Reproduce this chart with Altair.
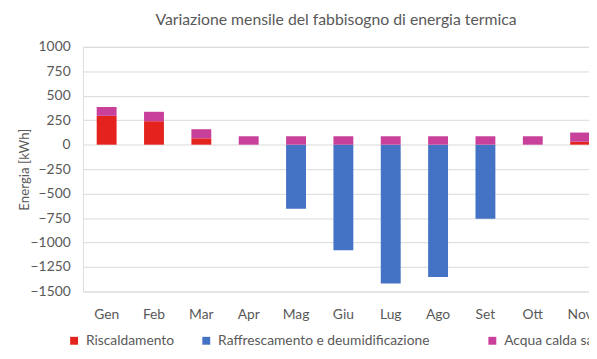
import altair as alt
import pandas as pd

months = ["Gen", "Feb", "Mar", "Apr", "Mag", "Giu", "Lug", "Ago", "Set", "Ott", "Nov"]
month_domain = months + ["Dic"]
series = ["Riscaldamento", "Raffrescamento e deumidificazione", "Acqua calda sanitaria"]
riscaldamento = [295, 240, 65, 0, 0, 0, 0, 0, 0, 0, 30]
raffrescamento = [0, 0, 0, 0, -655, -1078, -1418, -1352, -756, 0, 0]
acqua = [90, 96, 93, 86, 86, 86, 86, 86, 86, 86, 94]
colors = ["#E5231E", "#4472C4", "#C8409A"]
y_ticks = list(range(-1500, 1001, 250))

rows = []
for i, m in enumerate(months):
    for k, (s, vals) in enumerate(zip(series, [riscaldamento, raffrescamento, acqua])):
        rows.append({"Mese": m, "Serie": s, "Valore": vals[i], "ord": k})
df = pd.DataFrame(rows)

FONT = "Lato"
TXT = "#595959"

x_enc = alt.X("Mese:N", sort=month_domain,
              scale=alt.Scale(domain=month_domain, range=[0, 576], paddingInner=0.58, paddingOuter=0.29),
              axis=alt.Axis(title=None, labelAngle=0, domain=False, ticks=False, grid=False,
                            labelPadding=16, labelFontSize=14, labelColor=TXT, labelFont=FONT))
y_enc = alt.Y("v0:Q",
              scale=alt.Scale(domain=[-1500, 1000], nice=False, zero=False),
              axis=alt.Axis(title="Energia [kWh]", values=y_ticks, format="d", domain=False, ticks=False,
                            gridColor="#D9D9D9", gridWidth=1, labelPadding=13,
                            labelFontSize=14, labelColor=TXT, labelFont=FONT,
                            titleFontSize=13.5, titleColor=TXT, titleFont=FONT, titleFontWeight="normal",
                            titleAngle=-90, titleX=-59, titleY=124, titleAlign="center",
                            titleBaseline="middle"))


def legend(x):
    return alt.Legend(title=None, orient="none", direction="horizontal",
                      legendX=x, legendY=291, symbolType="square",
                      symbolSize=64, symbolStrokeWidth=0, labelOffset=5,
                      columnPadding=25, labelFontSize=14, labelColor=TXT,
                      labelFont=FONT, labelLimit=500)


base = alt.Chart(df).transform_stack(
    stack="Valore", groupby=["Mese"], as_=["v0", "v1"], sort=[alt.SortField("ord")]
)

heat_cool = base.transform_filter(alt.datum.ord < 2).mark_bar().encode(
    x=x_enc, y=y_enc, y2="v1:Q",
    color=alt.Color("Serie:N", scale=alt.Scale(domain=series[:2], range=colors[:2]),
                    legend=legend(-16)),
)
dhw = base.transform_filter(alt.datum.ord == 2).mark_bar().encode(
    x=x_enc, y=y_enc, y2="v1:Q",
    color=alt.Color("Serie:N", scale=alt.Scale(domain=series[2:], range=colors[2:]),
                    legend=legend(408)),
)

chart = alt.layer(heat_cool, dhw).resolve_scale(color="independent").properties(
    width=513,
    height=248,
    title=alt.TitleParams("Variazione mensile del fabbisogno di energia termica",
                          fontSize=16, font=FONT, fontWeight="normal", color=TXT,
                          anchor="middle", offset=12),
    autosize=alt.AutoSizeParams(type="none"),
    padding={"left": 76, "top": 37, "right": 0, "bottom": 58},
).configure_view(stroke=None).configure(background="white")

chart.save("out.html", embed_options={"renderer": "svg", "actions": False})
